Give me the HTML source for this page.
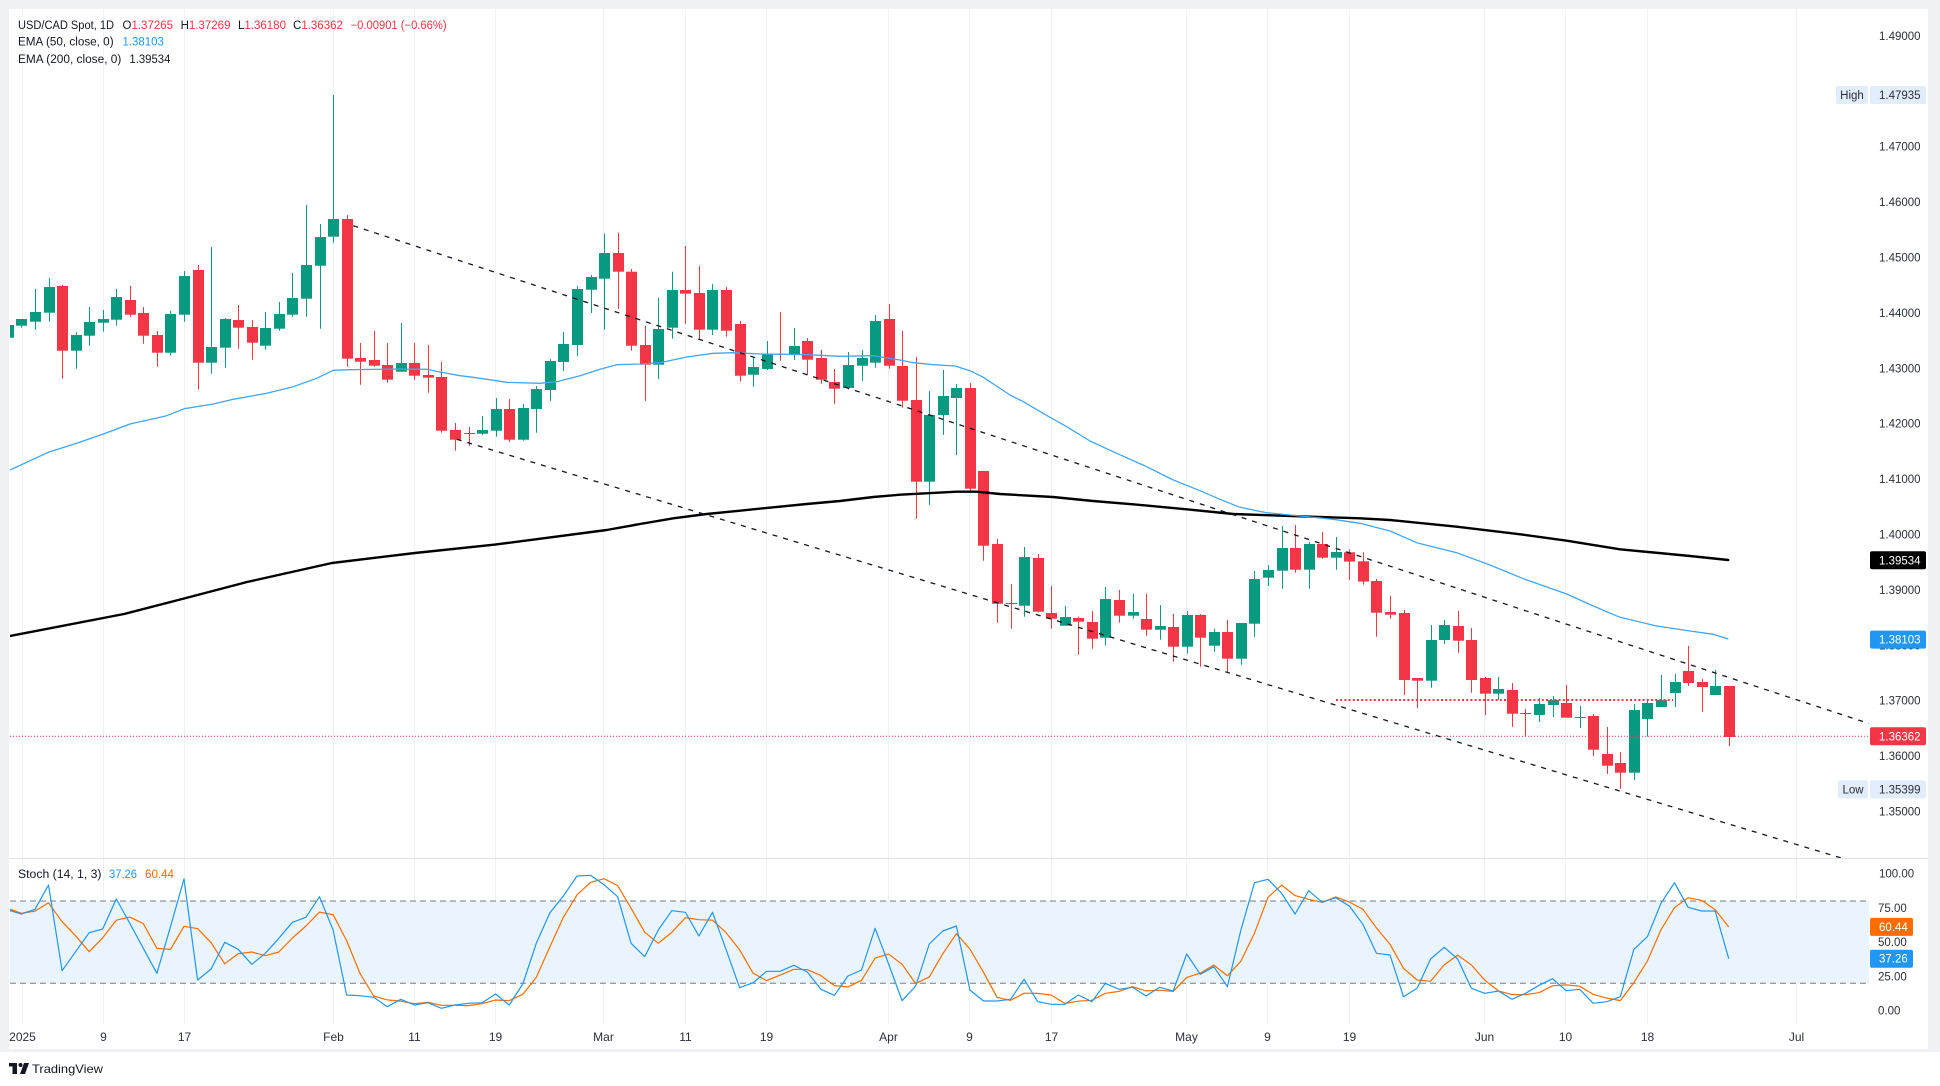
<!DOCTYPE html>
<html><head><meta charset="utf-8">
<style>
html,body{margin:0;padding:0;background:#fff;}
svg{display:block;}
text{font-family:"Liberation Sans",Arial,sans-serif;}
</style></head>
<body>
<svg id="c" width="1940" height="1086" viewBox="0 0 1940 1086" xmlns="http://www.w3.org/2000/svg">
<rect width="1940" height="1086" fill="#ffffff"/>
<defs>
<clipPath id="mainclip"><rect x="10" y="10" width="1859" height="848"/></clipPath>
<clipPath id="stclip"><rect x="10" y="859" width="1859" height="164"/></clipPath>
</defs>

<!-- grid -->
<g stroke="#eff2f8" stroke-width="1">
<line x1="22.5" y1="9" x2="22.5" y2="1024"/>
<line x1="103.5" y1="9" x2="103.5" y2="1024"/>
<line x1="184.5" y1="9" x2="184.5" y2="1024"/>
<line x1="333.5" y1="9" x2="333.5" y2="1024"/>
<line x1="414.5" y1="9" x2="414.5" y2="1024"/>
<line x1="495.5" y1="9" x2="495.5" y2="1024"/>
<line x1="603.5" y1="9" x2="603.5" y2="1024"/>
<line x1="685.5" y1="9" x2="685.5" y2="1024"/>
<line x1="766.5" y1="9" x2="766.5" y2="1024"/>
<line x1="888.5" y1="9" x2="888.5" y2="1024"/>
<line x1="969.5" y1="9" x2="969.5" y2="1024"/>
<line x1="1051.5" y1="9" x2="1051.5" y2="1024"/>
<line x1="1186.5" y1="9" x2="1186.5" y2="1024"/>
<line x1="1267.5" y1="9" x2="1267.5" y2="1024"/>
<line x1="1349.5" y1="9" x2="1349.5" y2="1024"/>
<line x1="1484.5" y1="9" x2="1484.5" y2="1024"/>
<line x1="1565.5" y1="9" x2="1565.5" y2="1024"/>
<line x1="1647.5" y1="9" x2="1647.5" y2="1024"/>
<line x1="1796.5" y1="9" x2="1796.5" y2="1024"/>
</g>

<!-- stoch band -->
<g clip-path="url(#stclip)">
<rect x="10" y="901" width="1859" height="82.3" fill="#e9f4fe"/>
<line x1="10" y1="901" x2="1869" y2="901" stroke="#787b86" stroke-width="1" stroke-dasharray="6,4"/>
<line x1="10" y1="983.3" x2="1869" y2="983.3" stroke="#787b86" stroke-width="1" stroke-dasharray="6,4"/>
<g id="stoch"></g>
</g>

<!-- main pane -->
<g clip-path="url(#mainclip)">
<g id="candles"></g>
<g id="emas"></g>
<line x1="1336" y1="700" x2="1673" y2="700" stroke="#f23645" stroke-width="2" stroke-dasharray="2,2.2"/>
<line x1="10" y1="736.3" x2="1869" y2="736.3" stroke="#f23645" stroke-width="1" stroke-dasharray="1,2"/>
<line x1="353.3" y1="225.7" x2="1869" y2="723.5" stroke="#131722" stroke-width="1.3" stroke-dasharray="5,6"/>
<line x1="456.7" y1="439.3" x2="1869" y2="866.4" stroke="#131722" stroke-width="1.3" stroke-dasharray="5,6"/>
</g>

<!-- divider -->
<line x1="9" y1="858.5" x2="1928" y2="858.5" stroke="#e0e3eb" stroke-width="1"/>

<!-- frame -->
<rect x="0" y="0" width="1940" height="9" fill="#f0f1f5"/>
<rect x="0" y="0" width="9" height="1052" fill="#f0f1f5"/>
<rect x="1928" y="0" width="12" height="1052" fill="#f0f1f5"/>
<rect x="0" y="1049" width="1940" height="3" fill="#f0f1f5"/>

<!-- header -->
<g font-size="11.5" fill="#131722">
<text x="18" y="29" textLength="96" lengthAdjust="spacingAndGlyphs">USD/CAD Spot, 1D</text>
<text x="122.5" y="29">O<tspan fill="#f23645">1.37265</tspan></text>
<text x="180.6" y="29">H<tspan fill="#f23645">1.37269</tspan></text>
<text x="238" y="29">L<tspan fill="#f23645">1.36180</tspan></text>
<text x="293" y="29">C<tspan fill="#f23645">1.36362</tspan></text>
<text x="350.6" y="29" fill="#f23645" textLength="96" lengthAdjust="spacingAndGlyphs">−0.00901 (−0.66%)</text>
<text x="18" y="45.5" textLength="95.6" lengthAdjust="spacingAndGlyphs">EMA (50, close, 0)</text>
<text x="122.5" y="45.5" fill="#2196f3" textLength="41.3" lengthAdjust="spacingAndGlyphs">1.38103</text>
<text x="18" y="63" textLength="103.3" lengthAdjust="spacingAndGlyphs">EMA (200, close, 0)</text>
<text x="129.4" y="63" textLength="41" lengthAdjust="spacingAndGlyphs">1.39534</text>
<text x="18" y="878" textLength="83.5" lengthAdjust="spacingAndGlyphs">Stoch (14, 1, 3)</text>
<text x="109" y="878" fill="#2196f3" textLength="28" lengthAdjust="spacingAndGlyphs">37.26</text>
<text x="145" y="878" fill="#ff6d00" textLength="29" lengthAdjust="spacingAndGlyphs">60.44</text>
</g>

<!-- price axis -->
<g font-size="11.5" fill="#2b2f3a">
<text x="1879" y="40">1.49000</text>
<text x="1879" y="95.3">1.48000</text>
<text x="1879" y="150.7">1.47000</text>
<text x="1879" y="206.1">1.46000</text>
<text x="1879" y="261.5">1.45000</text>
<text x="1879" y="316.9">1.44000</text>
<text x="1879" y="372.3">1.43000</text>
<text x="1879" y="427.7">1.42000</text>
<text x="1879" y="483.1">1.41000</text>
<text x="1879" y="538.5">1.40000</text>
<text x="1879" y="593.9">1.39000</text>
<text x="1879" y="649.3">1.38000</text>
<text x="1879" y="704.7">1.37000</text>
<text x="1879" y="760.1">1.36000</text>
<text x="1879" y="815.5">1.35000</text>
<text x="1879" y="877.5">100.00</text>
<text x="1878" y="911.8">75.00</text>
<text x="1878" y="946.1">50.00</text>
<text x="1878" y="980.4">25.00</text>
<text x="1878" y="1014.7">0.00</text>
</g>

<!-- tags -->
<g font-size="11.5">
<rect x="1836" y="86" width="32" height="18" rx="2" fill="#e1edfb"/>
<text x="1852" y="99" text-anchor="middle" fill="#2b2f3a">High</text>
<rect x="1870" y="86" width="56" height="18" rx="2" fill="#e1edfb"/>
<text x="1879" y="99" fill="#2b2f3a">1.47935</text>

<rect x="1838" y="780.4" width="30" height="18" rx="2" fill="#e1edfb"/>
<text x="1853" y="793.4" text-anchor="middle" fill="#2b2f3a">Low</text>
<rect x="1870" y="780.4" width="56" height="18" rx="2" fill="#e1edfb"/>
<text x="1879" y="793.4" fill="#2b2f3a">1.35399</text>

<rect x="1870" y="551.3" width="56" height="18" rx="2" fill="#000000"/>
<text x="1879" y="564.3" fill="#ffffff">1.39534</text>
<rect x="1870" y="630.6" width="56" height="18" rx="2" fill="#2196f3"/>
<text x="1879" y="643.6" fill="#ffffff">1.38103</text>
<rect x="1870" y="727.3" width="56" height="18" rx="2" fill="#f23645"/>
<text x="1879" y="740.3" fill="#ffffff">1.36362</text>

<rect x="1870" y="917.9" width="43" height="18" rx="2" fill="#ff6d00"/>
<text x="1879" y="930.9" fill="#ffffff">60.44</text>
<rect x="1870" y="949.7" width="43" height="18" rx="2" fill="#2196f3"/>
<text x="1879" y="962.7" fill="#ffffff">37.26</text>
</g>

<!-- time axis -->
<g font-size="12" fill="#2b2f3a" text-anchor="middle">
<text x="22.5" y="1041">2025</text>
<text x="103.5" y="1041">9</text>
<text x="184.5" y="1041">17</text>
<text x="333.5" y="1041">Feb</text>
<text x="414.5" y="1041">11</text>
<text x="495.5" y="1041">19</text>
<text x="603.5" y="1041">Mar</text>
<text x="685.5" y="1041">11</text>
<text x="766.5" y="1041">19</text>
<text x="888.5" y="1041">Apr</text>
<text x="969.5" y="1041">9</text>
<text x="1051.5" y="1041">17</text>
<text x="1186.5" y="1041">May</text>
<text x="1267.5" y="1041">9</text>
<text x="1349.5" y="1041">19</text>
<text x="1484.5" y="1041">Jun</text>
<text x="1565.5" y="1041">10</text>
<text x="1647.5" y="1041">18</text>
<text x="1796.5" y="1041">Jul</text>
</g>

<!-- logo -->
<g fill="#131722">
<rect x="9" y="1063" width="8" height="3.5"/>
<rect x="12.5" y="1063" width="4.5" height="11"/>
<circle cx="20.5" cy="1065" r="2"/>
<polygon points="24,1063 29,1063 25,1074 20,1074"/>
</g>
<text x="32" y="1073" font-size="12" fill="#131722" textLength="71" lengthAdjust="spacingAndGlyphs">TradingView</text>
</svg>

<script>
(function(){
var NS="http://www.w3.org/2000/svg";
function X(i){return 21.4+13.55*i;}
function el(tag,attrs,parent){var e=document.createElementNS(NS,tag);for(var k in attrs)e.setAttribute(k,attrs[k]);parent.appendChild(e);return e;}
var segs=[
[80,[[-1,773,735,735,773],[0,737,717,717,743],[1,725,696,627,749],[2,698,621,594,725],[3,618,812,615,896],[4,812,765,756,866],[5,767,726,681,797],[6,728,717,690,755],[7,719,651,627,737],[8,660,704,618,710],[9,699,767,681,791],[10,765,818,753,860],[11,818,702,693,827],[12,704,588,573,725],[13,570,848,555,929],[14,848,801,501,881],[15,803,717,714,863],[16,720,743,675,806],[17,741,788,720,839],[18,797,744,696,809],[19,746,702,666,752],[20,704,654,579,710],[21,656,555,375,710],[22,557,471,432,746],[23,470,417,45,488],[24,417,836,405,860],[25,834,845,789,914],[26,840,857,752,860],[27,855,899,789,908],[28,875,849,729,875],[29,849,887,789,899],[30,885,893,795,938],[31,891,1052,846,1058]]],
[200,[[32,690,719,669,752],[33,699,701,681,737],[34,701,690,648,704],[35,692,627,594,710],[36,627,719,597,725],[37,719,624,612,722],[38,627,567,558,698],[39,570,483,477,603],[40,486,432,396,513],[41,435,267,258,468],[42,269,231,225,339],[43,236,159,101,389],[44,159,215,98,327],[45,215,437,207,452],[46,435,494,378,603],[47,494,387,294,537],[48,383,270,215,416],[49,270,281,138,371],[50,279,389,198,416],[51,389,270,252,405],[52,270,392,261,410],[53,372,527,363,545],[54,524,501,470,560],[55,507,462,423,510],[56,461,464,336,482],[57,464,438,384,480],[58,423,479,414,524],[59,474,539,450,551],[60,546,566,507,611],[61,564,495,456,568],[62,497,474,450,542],[63,488,363,345,503],[64,357,497,312,506],[65,498,602,393,623],[66,600,845,471,956]]],
[360,[[67,365,165,93,435],[68,165,108,30,225],[69,114,84,72,285],[70,84,386,69,398],[71,333,557,333,602],[72,552,731,537,788],[73,729,732,672,806],[74,737,591,561,770],[75,594,755,582,757],[76,759,776,678,806],[77,797,771,738,797],[78,774,785,770,884],[79,786,836,753,866],[80,833,717,681,857],[81,720,767,690,788],[82,767,756,702,776],[83,777,809,702,827],[84,809,798,735,839],[85,801,860,762,905],[86,860,765,753,881],[87,765,833,762,920],[88,857,816,806,875],[89,816,896,780,938],[90,896,789,789,914],[91,791,657,633,830],[92,653,630,615,678],[93,632,564,498,686],[94,564,629,495,638],[95,629,552,546,686],[96,552,593,516,596],[97,593,576,531,629]]],
[500,[[98,157,185,148,240],[99,184,245,157,254],[100,243,338,237,410],[101,336,344,288,356],[102,339,540,330,585],[103,534,542,534,624],[104,542,420,375,563],[105,420,375,360,432],[106,378,422,333,458],[107,420,540,384,578],[108,534,581,531,645],[109,581,567,531,600],[110,570,641,549,681],[111,639,641,627,710],[112,645,612,594,666],[113,615,600,588,651],[114,609,653,555,653],[115,653,651,618,684],[116,648,749,642,768],[117,762,797,681,822],[118,789,818,756,866],[119,818,630,612,840],[120,657,609,597,710],[121,621,600,525,621],[122,579,546,522,621],[123,513,549,438,558],[124,546,561,537,636],[125,585,558,510,585],[126,558,711,558,738]]]
];
var cg=document.getElementById('candles');
segs.forEach(function(s){var off=s[0];s[1].forEach(function(d){
 var i=d[0],O=d[1]/3+off,C=d[2]/3+off,H=d[3]/3+off,L=d[4]/3+off;
 var up=C<=O;var col=up?'#089981':'#f23645';
 var cx=Math.round(X(i));
 el('rect',{x:cx,y:H.toFixed(1),width:1,height:Math.max(1,L-H).toFixed(1),fill:col},cg);
 var top=Math.min(O,C),bh=Math.max(1,Math.abs(O-C));
 el('rect',{x:cx-5,y:top.toFixed(1),width:11,height:bh.toFixed(1),fill:col},cg);
});});

var eg=document.getElementById('emas');
var e50=[[10,470],[48.3,452.3],[76.7,443.3],[103.3,434],[130,424],[166.7,415.7],[184.3,408.7],[213.3,404],[233.3,399.3],[266.7,393.3],[293.3,386.7],[316.7,378.3],[333.3,370.3],[350,369.7],[400,369],[426.7,369.3],[440,372],[460,375.7],[473.3,377.3],[506.7,382.3],[540,383.3],[556.7,381.7],[580,375.7],[600,369.3],[616.7,364.7],[640,364],[660,362.7],[686.7,357],[713.3,353.3],[733.3,352.7],[760,354],[806.7,354.7],[840,356.3],[873.3,355.7],[900,360],[913.3,362.7],[933.3,364.7],[955,366],[970,370.7],[983.3,377.3],[1010,395],[1023.3,401.7],[1050,417.3],[1066.7,426.7],[1090,441],[1116.7,453.3],[1146.7,466.7],[1173.3,480],[1200,490.7],[1220,499.3],[1240,507.3],[1266.7,512.7],[1300,516],[1333.3,519.3],[1360,523.3],[1390,531],[1416.7,542.7],[1456.7,552.7],[1490,565],[1523.3,578.7],[1566.7,594],[1593.3,606],[1620,617.3],[1656.7,626],[1690,631],[1713.3,634.3],[1728.3,639]];
var e200=[[10,636],[124,614],[186,598],[247,582],[332,563],[415,553],[495,544.6],[606.7,530],[640,524],[673.3,518.3],[706.7,514],[740,510.7],[773.3,507.3],[806.7,504],[840,501],[873.3,497],[900,494.7],[956.7,491.7],[976.7,491.7],[1000,494],[1053,497],[1093,501],[1133,504.3],[1186.7,509.3],[1233.3,514],[1300,516.3],[1360,518.3],[1390,520],[1456.7,526.7],[1523.3,534.7],[1566.7,540.7],[1620,549.3],[1690,556],[1728.3,560]];
function pts(a){return a.map(function(p){return p[0]+','+p[1];}).join(' ');}
el('polyline',{points:pts(e200),fill:'none',stroke:'#000000','stroke-width':2.4,'stroke-linejoin':'round','stroke-linecap':'round'},eg);
el('polyline',{points:pts(e50),fill:'none',stroke:'#42a5f5','stroke-width':1.3,'stroke-linejoin':'round'},eg);

var K=[150,162,148,75,332,275,218,207,117,190,265,340,200,57,360,327,247,268,313,280,235,187,172,110,210,405,407,412,440,418,435,428,445,435,430,428,402,435,372,250,158,108,48,46,74,110,250,290,210,152,157,228,157,268,383,368,334,334,316,336,388,406,348,330,205,312,422,378,252,
213,198,390,423,423,418,358,425,433,433,405,425,370,388,382,408,382,393,282,343,320,380,210,68,58,100,162,92,127,113,138,193,280,285,410,385,297,262,297,385,400,393,418,400,376,356,392,388,430,425,410,268,230,130,68,142,153,153,296];
var D=[145,160];
for(var j=2;j<K.length;j++){D.push((K[j]+K[j-1]+K[j-2])/3);}
var sg=document.getElementById('stoch');
var kp=[],dp=[];
for(var j=0;j<K.length;j++){var i=j-1;var x=X(i).toFixed(1);kp.push(x+','+(860+K[j]/3).toFixed(1));dp.push(x+','+(860+D[j]/3).toFixed(1));}
el('polyline',{points:dp.join(' '),fill:'none',stroke:'#ff6d00','stroke-width':1.2,'stroke-linejoin':'round'},sg);
el('polyline',{points:kp.join(' '),fill:'none',stroke:'#2196f3','stroke-width':1.2,'stroke-linejoin':'round'},sg);
})();
</script>
</body></html>
